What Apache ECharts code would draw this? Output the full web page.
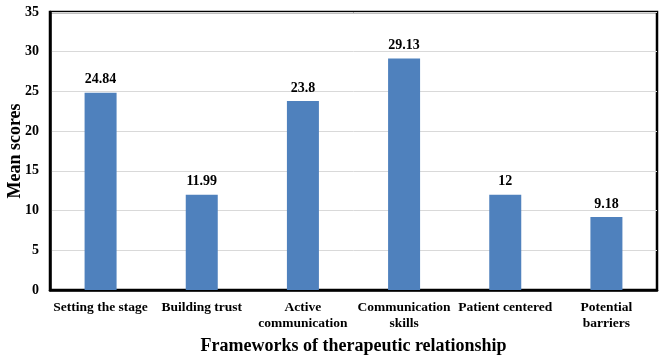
<!DOCTYPE html>
<html>
<head>
<meta charset="utf-8">
<script src="https://cdn.jsdelivr.net/npm/echarts@6/dist/echarts.min.js"></script>
<style>
  html, body { margin: 0; padding: 0; background: #fff; }
  #main { width: 669px; height: 360px; }
</style>
</head>
<body>
<div id="main"></div>
<script>
var categories = ['Setting the stage', 'Building trust', 'Active\ncommunication',
  'Communication\nskills', 'Patient centered', 'Potential\nbarriers'];
var meanScores = [24.84, 11.99, 23.8, 29.13, 12, 9.18];
var scoreLabels = ['24.84', '11.99', '23.8', '29.13', '12', '9.18'];

var chart = echarts.init(document.getElementById('main'));
var font = '"Liberation Serif", "Times New Roman", serif';

var option = {
  animation: false,
  textStyle: { fontFamily: font },
  grid: {
    left: 50, right: 12, top: 12, bottom: 70,
    outerBoundsMode: 'none',
    containLabel: false,
    show: true, borderColor: '#000', borderWidth: 2.5
  },
  xAxis: {
    type: 'category',
    data: categories,
    name: 'Frameworks of therapeutic relationship',
    nameLocation: 'middle',
    nameGap: 47,
    nameMoveOverlap: false,
    nameTextStyle: { fontFamily: font, fontWeight: 'bold', fontSize: 18, color: '#000' },
    axisLine: { lineStyle: { color: '#000', width: 2.5 } },
    axisTick: { show: false },
    axisLabel: {
      interval: 0, color: '#000', fontFamily: font, fontWeight: 'bold',
      fontSize: 13.5, margin: 10, lineHeight: 16
    }
  },
  yAxis: {
    type: 'value',
    min: 0, max: 35, interval: 5,
    name: 'Mean scores',
    nameLocation: 'middle',
    nameGap: 26,
    nameMoveOverlap: false,
    nameTextStyle: { fontFamily: font, fontWeight: 'bold', fontSize: 18, color: '#000' },
    axisLine: { show: true, lineStyle: { color: '#000', width: 2.5 } },
    axisTick: { show: false },
    axisLabel: { color: '#000', fontFamily: font, fontWeight: 'bold', fontSize: 14, margin: 11 },
    splitLine: { lineStyle: { color: '#d9d9d9', width: 1 } }
  },
  series: [{
    type: 'bar',
    data: meanScores,
    barWidth: 32,
    itemStyle: { color: '#4f81bd' },
    label: {
      show: true, position: 'top', distance: 6,
      color: '#000', fontFamily: font, fontWeight: 'bold', fontSize: 14,
      formatter: function (p) { return scoreLabels[p.dataIndex]; }
    }
  }]
};
chart.setOption(option);
</script>
</body>
</html>
